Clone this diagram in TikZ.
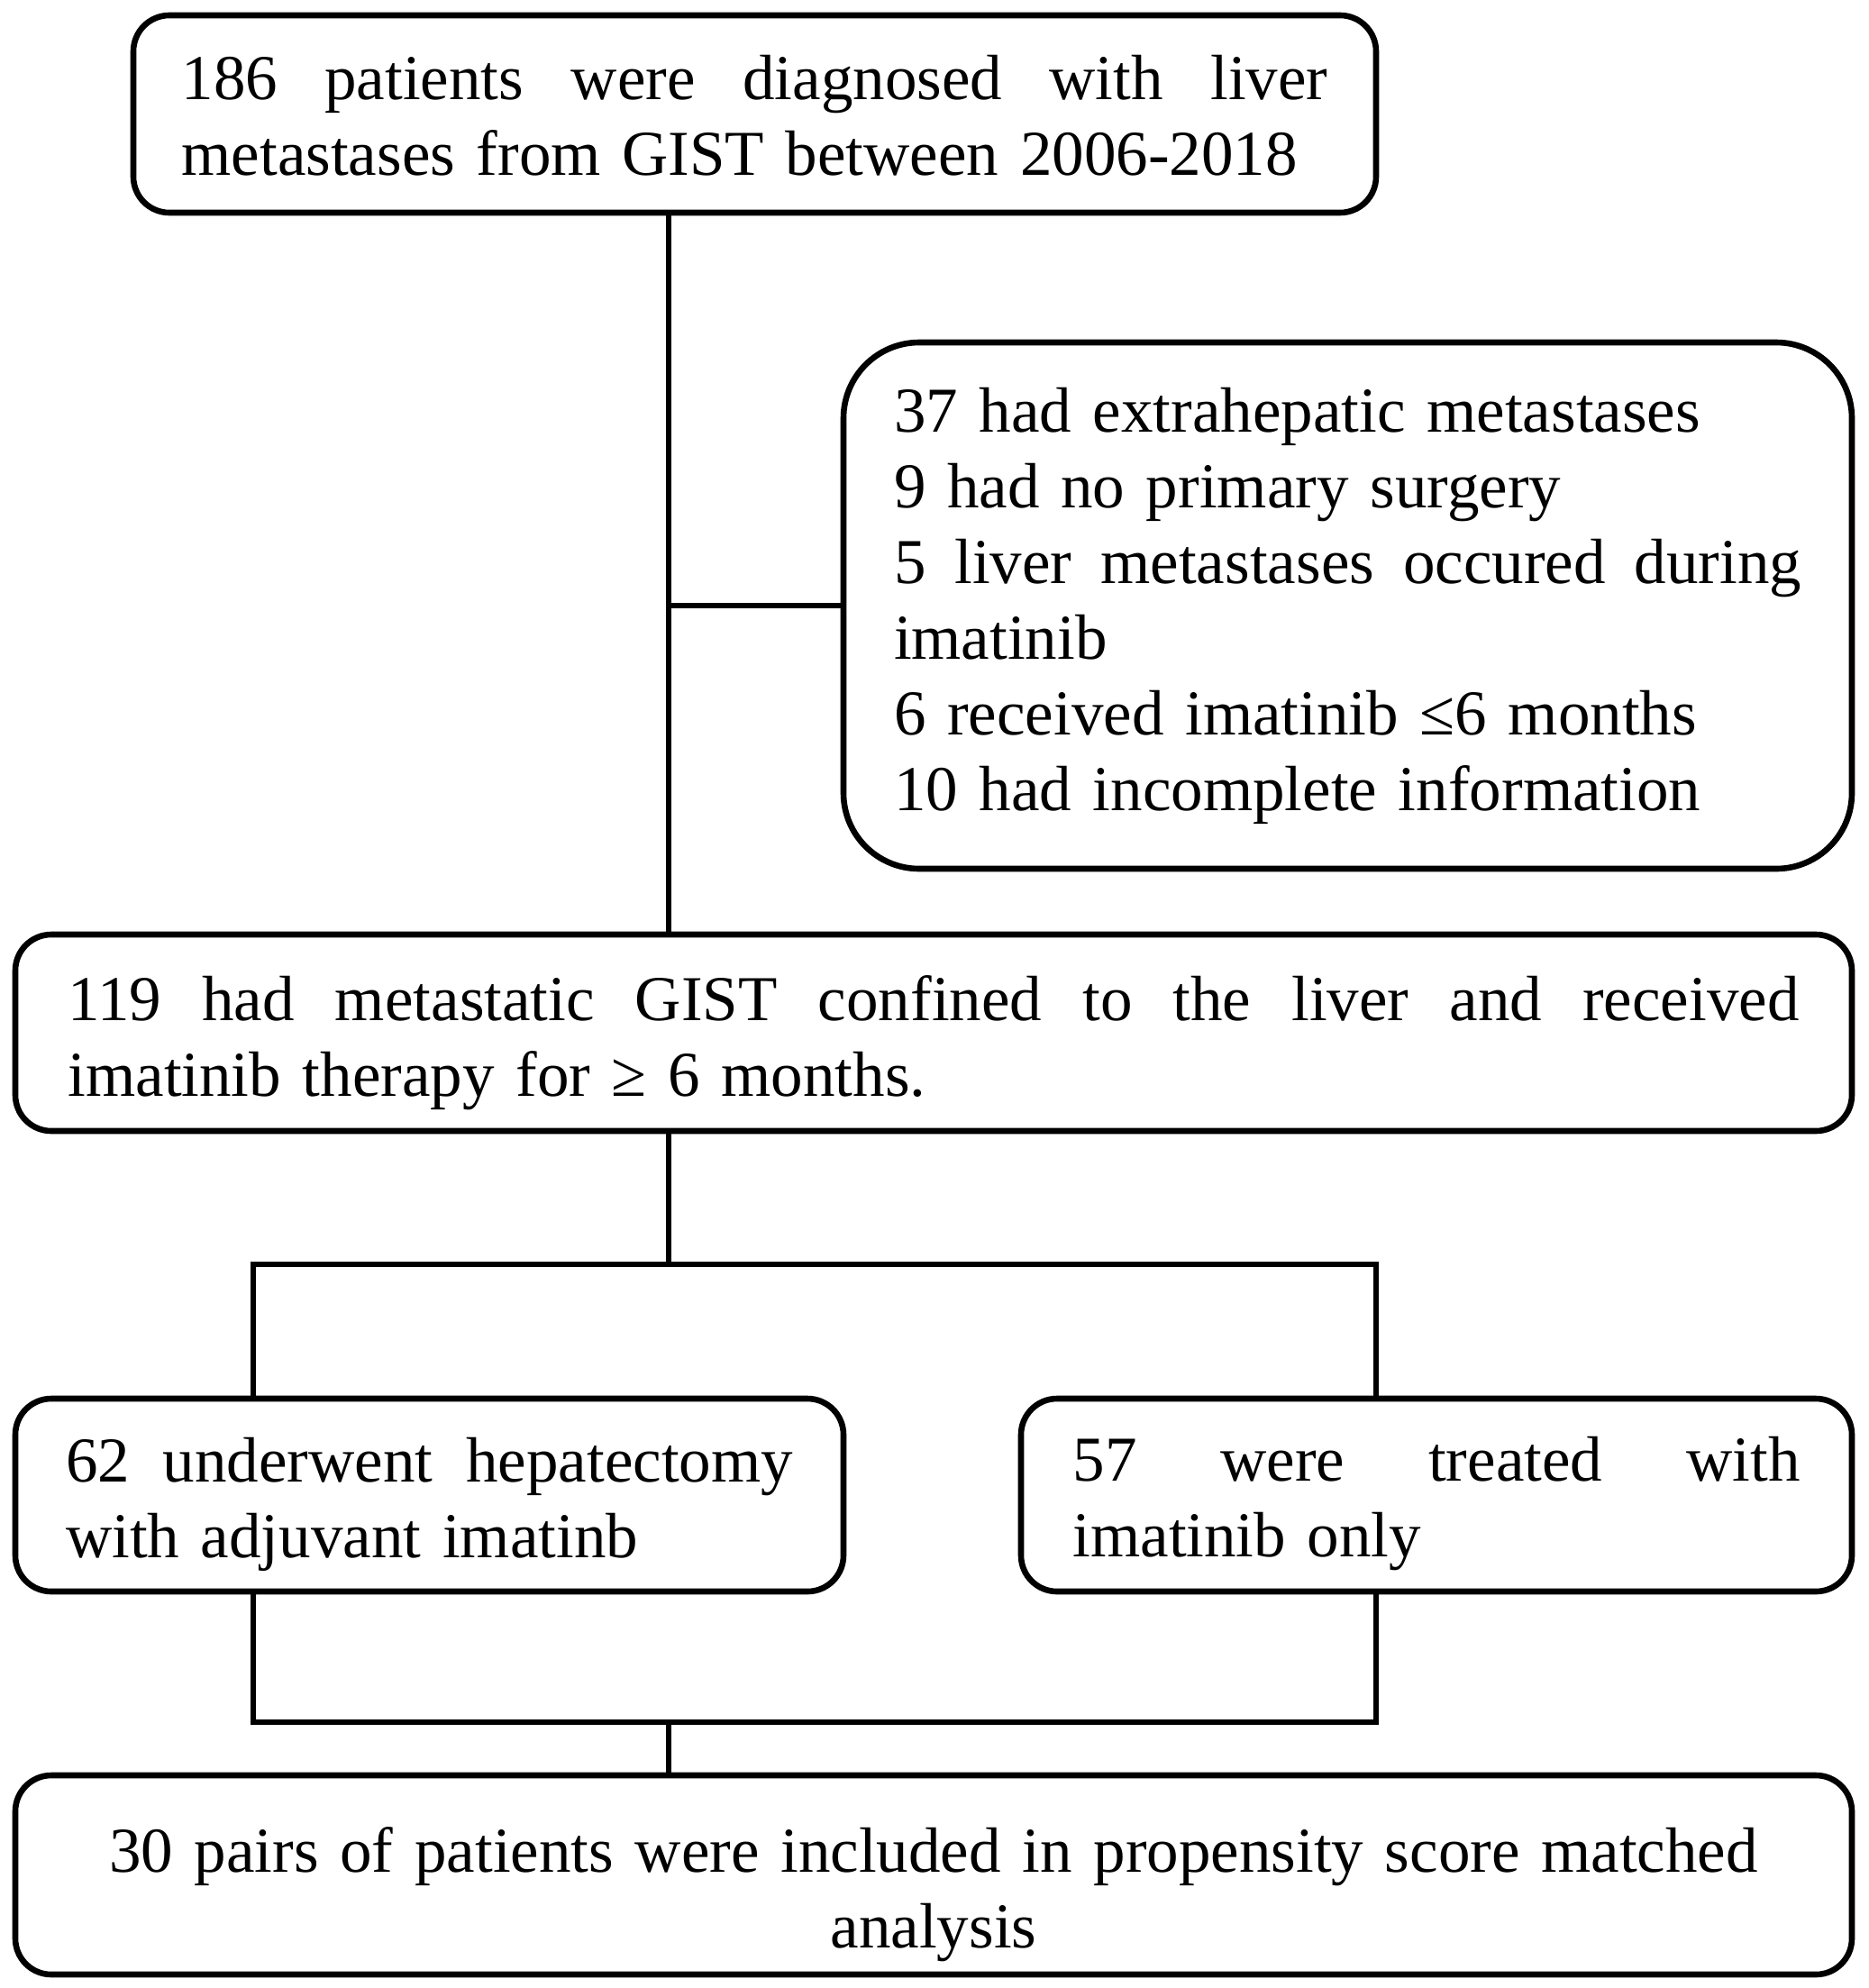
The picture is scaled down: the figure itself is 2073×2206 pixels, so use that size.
\documentclass[tikz,border=0pt]{standalone}
\usepackage{fontspec}
\setmainfont{Liberation Serif}
\begin{document}
\begin{tikzpicture}[x=0.5pt,y=-0.5pt,
  boxshape/.style={draw=black, line width=3.3pt, rounded corners=20pt, inner sep=0pt},
  txt/.style={inner sep=0pt, font=\fontsize{35.5pt}{42pt}\selectfont, align=left},
  conn/.style={draw=black, line width=3.2pt}]
\useasboundingbox (0,0) rectangle (2073,2206);
% boxes
\node[boxshape, minimum width=689.5pt, minimum height=109.5pt] (b1) at (837.5,126.5) {};
\node[txt, text width=636pt] (t1) at ([yshift=-1pt]b1.center)
  {186\hfill patients\hfill were\hfill diagnosed\hfill with\hfill liver\\
   metastases from GIST between 2006-2018};
\node[boxshape, rounded corners=42pt, minimum width=559.5pt, minimum height=292pt] (b2) at (1495.5,672) {};
\node[txt, text width=503.5pt] (t2) at (b2.center)
  {37 had extrahepatic metastases\\
   9 had no primary surgery\\
   5\hfill liver\hfill metastases\hfill occured\hfill during\\
   imatinib\\
   6 received imatinib ≤6 months\\
   10 had incomplete information};
\node[boxshape, minimum width=1019pt, minimum height=109pt] (b3) at (1036,1146) {};
\node[txt, text width=960.5pt] (t3) at ([yshift=-5.5pt]b3.center)
  {119\hfill had\hfill metastatic\hfill GIST\hfill confined\hfill to\hfill the\hfill liver\hfill and\hfill received\\
   imatinib therapy for ≥ 6 months.};
\node[boxshape, minimum width=459.5pt, minimum height=107pt] (b4) at (476.5,1659) {};
\node[txt, text width=403.5pt] (t4) at ([yshift=-5pt]b4.center)
  {62\hfill underwent\hfill hepatectomy\\
   with adjuvant imatinb};
\node[boxshape, minimum width=461pt, minimum height=107pt] (b5) at (1594,1659) {};
\node[txt, text width=403.5pt] (t5) at ([yshift=-5pt]b5.center)
  {57\hfill were\hfill treated\hfill with\\
   imatinib only};
\node[boxshape, minimum width=1019pt, minimum height=110.5pt] (b6) at (1036,2080.5) {};
\node[txt, text width=980pt, align=center] (t6) at ([yshift=-11pt]b6.center)
  {30 pairs of patients were included in propensity score matched\\
   analysis};
% junction coordinates
\coordinate (jx) at (742,0);
\coordinate (jsplit) at (742,1403);
\coordinate (jl) at (281,1403);
\coordinate (jr) at (1527,1403);
\coordinate (ml) at (281,1911);
\coordinate (mr) at (1527,1911);
\coordinate (mc) at (742,1911);
% connectors
\draw[conn] (b1.south -| jx) -- (b3.north -| jx);
\draw[conn] (b2.west -| jx) -- (b2.west);
\draw[conn] (b3.south -| jx) -- (jsplit);
\draw[conn, line cap=rect] (jl) -- (jr);
\draw[conn] (jl) -- (b4.north -| jl);
\draw[conn] (jr) -- (b5.north -| jr);
\draw[conn, line join=miter] (b4.south -| ml) -- (ml) -- (mr) -- (b5.south -| mr);
\draw[conn] (mc) -- (b6.north -| mc);
\end{tikzpicture}
\end{document}
